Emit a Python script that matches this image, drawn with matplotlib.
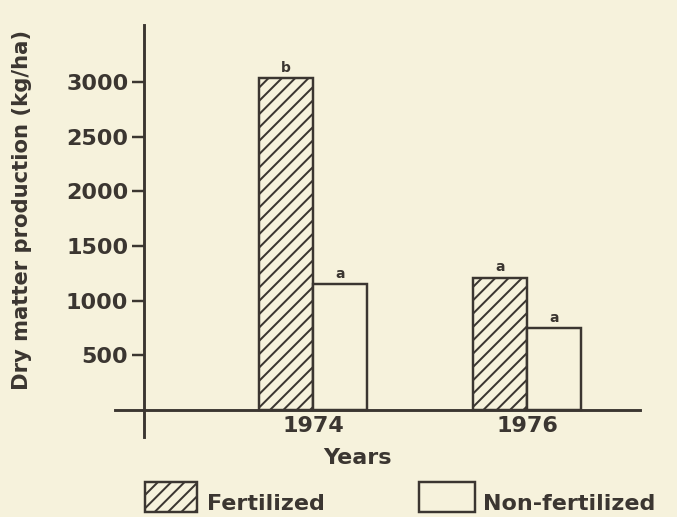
import matplotlib
matplotlib.use("Agg")
import matplotlib.pyplot as plt
from matplotlib.patches import Rectangle
import numpy as np

years = ["1974", "1976"]
fertilized = [3040, 1210]
non_fertilized = [1150, 745]
fert_letters = ["b", "a"]
nonfert_letters = ["a", "a"]
y_ticks = [500, 1000, 1500, 2000, 2500, 3000]

INK = "#3b3631"
BG = "#f6f2dc"
DPI = 80

plt.rcParams["font.family"] = ["DejaVu Sans"]
plt.rcParams["font.weight"] = "bold"
plt.rcParams["hatch.linewidth"] = 1.8
plt.rcParams["hatch.color"] = INK

fig = plt.figure(figsize=(677 / DPI, 517 / DPI), dpi=DPI, facecolor=BG)
ax = fig.add_axes([115 / 677, 1 - 437 / 517, 525 / 677, 412 / 517])
ax.set_facecolor(BG)

x = np.arange(len(years))
w = 0.252
b1 = ax.bar(x - w / 2, fertilized, w, facecolor=BG, edgecolor=INK,
            linewidth=2.2, hatch="//", zorder=3)
b2 = ax.bar(x + w / 2, non_fertilized, w, facecolor=BG, edgecolor=INK,
            linewidth=2.2, zorder=3)

for rect, lab in zip(list(b1) + list(b2), fert_letters + nonfert_letters):
    ax.annotate(lab, (rect.get_x() + rect.get_width() / 2, rect.get_height()),
                xytext=(0, 3), textcoords="offset points", ha="center",
                va="bottom", fontsize=12.5, color=INK)

ax.set_xlim(-0.925, 1.528)
ax.set_ylim(-250, 3525)

for s in ["top", "right"]:
    ax.spines[s].set_visible(False)
ax.spines["left"].set_position(("data", -0.79))
ax.spines["bottom"].set_position(("data", 0))
for s in ["left", "bottom"]:
    ax.spines[s].set_linewidth(2.6)
    ax.spines[s].set_color(INK)
    ax.spines[s].set_zorder(4)

ax.set_yticks(y_ticks)
ax.set_yticklabels([str(v) for v in y_ticks])
ax.tick_params(axis="y", direction="out", length=11, width=2.2, color=INK,
               labelsize=20, labelcolor=INK, pad=3)
ax.set_xticks(x)
ax.set_xticklabels(years)
ax.tick_params(axis="x", length=0, labelsize=20, labelcolor=INK, pad=6)

fig.text(22 / 677, 1 - 210 / 517, "Dry matter production (kg/ha)",
         rotation=90, ha="center", va="center", fontsize=19, color=INK)
fig.text(357 / 677, 1 - 458 / 517, "Years", ha="center", va="center",
         fontsize=20, color=INK)

# legend
fig.add_artist(Rectangle((145 / 677, 1 - 512 / 517), 52 / 677, 30 / 517,
                         transform=fig.transFigure, facecolor=BG,
                         edgecolor=INK, linewidth=2.2, hatch="//"))
fig.text(207 / 677, 1 - 510 / 517, "Fertilized", ha="left", va="baseline",
         fontsize=20, color=INK)
fig.add_artist(Rectangle((419 / 677, 1 - 512 / 517), 56 / 677, 30 / 517,
                         transform=fig.transFigure, facecolor=BG,
                         edgecolor=INK, linewidth=2.2))
fig.text(483 / 677, 1 - 510 / 517, "Non-fertilized", ha="left", va="baseline",
         fontsize=20, color=INK)

fig.savefig("out.png", dpi=DPI, facecolor=BG)
